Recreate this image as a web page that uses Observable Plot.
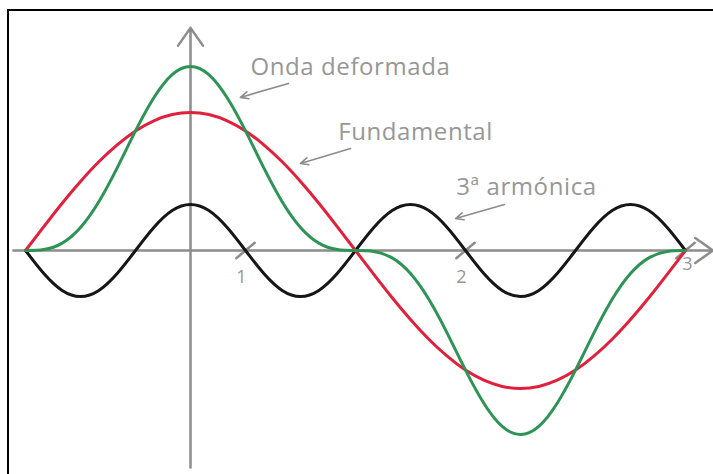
<!DOCTYPE html>
<html>
<head>
<meta charset="utf-8">
<script src="https://cdn.jsdelivr.net/npm/d3@7"></script>
<script src="https://cdn.jsdelivr.net/npm/@observablehq/plot@0.6"></script>
<style>
  html, body { margin: 0; padding: 0; background: #fff; }
  #wrap { position: relative; width: 713px; height: 474px; overflow: hidden; }
  #frame { position: absolute; left: 7px; top: 9px; width: 720px; height: 480px;
           border-top: 2px solid #000; border-left: 2px solid #000; pointer-events: none; }
</style>
</head>
<body>
<div id="wrap"><div id="chart"></div><div id="frame"></div></div>
<script>
// sample positions along the horizontal axis
const xs = [0, 0.0833, 0.1667, 0.25, 0.3333, 0.4167, 0.5, 0.5833, 0.6667, 0.75, 0.8333, 0.9167, 1,
            1.0833, 1.1667, 1.25, 1.3333, 1.4167, 1.5, 1.5833, 1.6667, 1.75, 1.8333, 1.9167, 2,
            2.0833, 2.1667, 2.25, 2.3333, 2.4167, 2.5, 2.5833, 2.6667, 2.75, 2.8333, 2.9167, 3];
// Fundamental (red)
const fundamental = [0, .130, .257, .375, .482, .574, .650, .705, .739, .750, .739, .705, .650,
                     .574, .482, .375, .257, .130, 0, -.130, -.257, -.375, -.482, -.574, -.650,
                     -.705, -.739, -.750, -.739, -.705, -.650, -.574, -.482, -.375, -.257, -.130, 0];
// 3ª armónica (black)
const harmonic3 = [0, -.125, -.217, -.250, -.217, -.125, 0, .125, .217, .250, .217, .125, 0,
                   -.125, -.217, -.250, -.217, -.125, 0, .125, .217, .250, .217, .125, 0,
                   -.125, -.217, -.250, -.217, -.125, 0, .125, .217, .250, .217, .125, 0];
// Onda deformada (green)
const deformed = [0, .005, .040, .125, .265, .449, .650, .830, .956, 1.0, .956, .830, .650,
                  .449, .265, .125, .040, .005, 0, -.005, -.040, -.125, -.265, -.449, -.650,
                  -.830, -.956, -1.0, -.956, -.830, -.650, -.449, -.265, -.125, -.040, -.005, 0];

const tickValues = [1, 2, 3];
const tickLabels = ["1", "2", "3"];

// axis extents and crossing
const xAxisExtent = [-0.055, 3.125];
const yAxisExtent = [-1.18, 1.21];
const yAxisAtX = 0.75;

// annotations
const annLabels = ["Onda deformada", "Fundamental", "3ª armónica"];
const annTextX = [1.477, 1.773, 2.277];
const annTextY = [0.995, 0.641, 0.342];
const annFromX = [1.195, 1.477, 2.177];
const annFromY = [0.908, 0.554, 0.25];
const annToX = [0.977, 1.25, 1.955];
const annToY = [0.832, 0.473, 0.174];

const series = [
  {name: "3ª armónica", values: harmonic3, color: "#161616"},
  {name: "Fundamental", values: fundamental, color: "#e1203c"},
  {name: "Onda deformada", values: deformed, color: "#2e9456"}
];
const rows = series.flatMap(s => xs.map((x, i) => ({x, y: s.values[i], name: s.name})));
const annotations = annLabels.map((t, i) => ({
  t, tx: annTextX[i], ty: annTextY[i], x1: annFromX[i], y1: annFromY[i], x2: annToX[i], y2: annToY[i]
}));
const ticks = tickValues.map((v, i) => ({v, label: tickLabels[i]}));

const axisGray = "#8c8c8c";
const textGray = "#979797";

const tickShape = {
  draw(context, l) { context.moveTo(0, 0); context.lineTo(0, -l); }
};

const chart = Plot.plot({
  width: 713,
  height: 474,
  marginLeft: 25,
  marginRight: 28,
  marginTop: 66,
  marginBottom: 40,
  style: {fontFamily: "Open Sans", background: "transparent"},
  x: {domain: [0, 3], axis: null},
  y: {domain: [-1, 1], axis: null},
  color: {domain: series.map(s => s.name), range: series.map(s => s.color)},
  marks: [
    // horizontal axis
    Plot.arrow([0], {x1: xAxisExtent[0], x2: xAxisExtent[1], y1: 0, y2: 0,
      stroke: axisGray, strokeWidth: 2.5, headLength: 13, headAngle: 70}),
    // vertical axis
    Plot.arrow([0], {x1: yAxisAtX, x2: yAxisAtX, y1: yAxisExtent[0], y2: yAxisExtent[1],
      stroke: axisGray, strokeWidth: 2.5, headLength: 13, headAngle: 70}),
    // slanted ticks
    Plot.vector(ticks, {x: "v", y: 0, length: 24, rotate: 50, anchor: "middle",
      shape: tickShape, stroke: axisGray, strokeWidth: 2.5}),
    Plot.text(ticks.filter(d => d.v !== 3), {x: "v", y: 0, text: "label", dx: -4, dy: 27,
      fill: textGray, fontSize: 18}),
    Plot.text(ticks.filter(d => d.v === 3), {x: "v", y: 0, text: "label", dx: 2, dy: 14,
      fill: textGray, fontSize: 18}),
    // curves
    Plot.line(rows, {x: "x", y: "y", z: "name", stroke: "name", strokeWidth: 3,
      curve: "natural"}),
    // annotations
    Plot.arrow(annotations, {x1: "x1", y1: "y1", x2: "x2", y2: "y2",
      stroke: axisGray, strokeWidth: 1.6, headLength: 8, headAngle: 50}),
    Plot.text(annotations, {x: "tx", y: "ty", text: "t", fill: textGray, fontSize: 24,
      style: "letter-spacing: 0.6px"})
  ]
});
chart.querySelectorAll("text").forEach(t => {
  if (annLabels.includes(t.textContent)) t.style.letterSpacing = "0.6px";
});
document.getElementById("chart").appendChild(chart);
</script>
</body>
</html>
